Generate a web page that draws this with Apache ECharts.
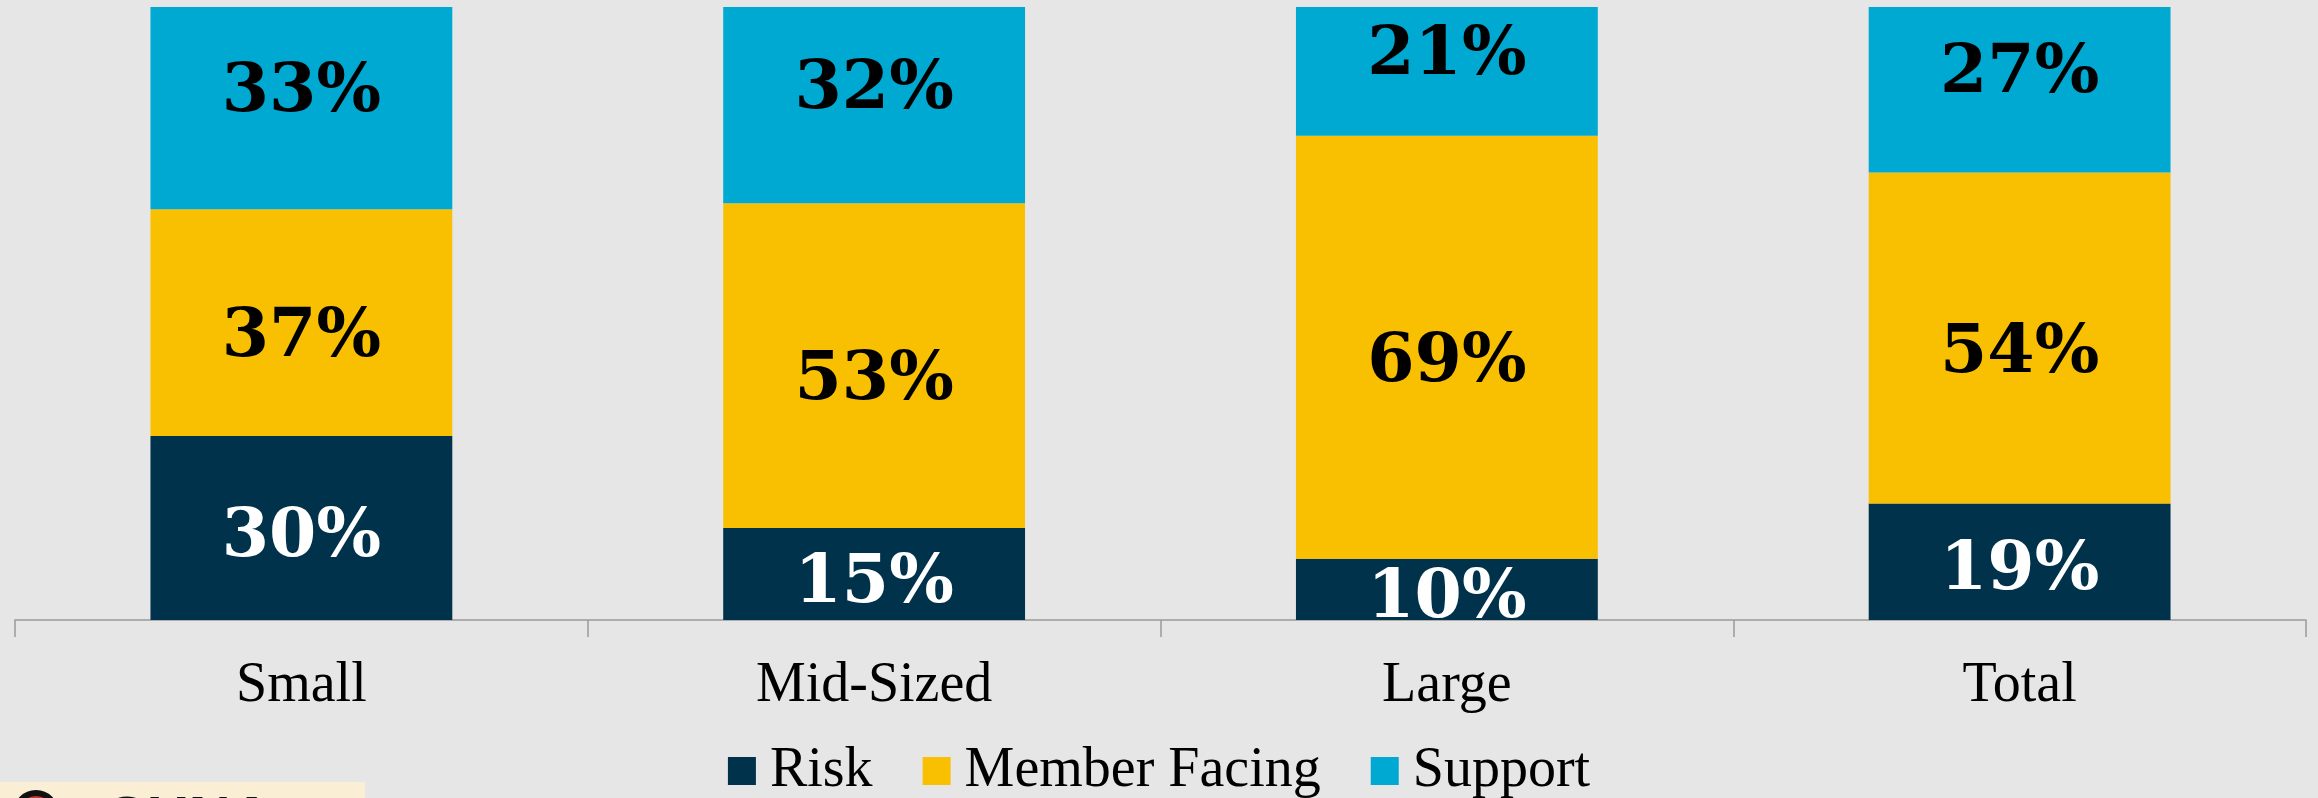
<!DOCTYPE html>
<html>
<head>
<meta charset="utf-8">
<script src="https://cdn.jsdelivr.net/npm/echarts@6/dist/echarts.min.js"></script>
<style>
html,body{margin:0;padding:0;background:#e6e6e6;}
#echart1{width:2318px;height:798px;}
</style>
</head>
<body>
<div id="echart1"></div>
<script>
var categories = ['Small', 'Mid-Sized', 'Large', 'Total'];
var riskData = [30, 15, 10, 19];
var memberData = [37, 53, 69, 54];
var supportData = [33, 32, 21, 27];

echarts_1();

function echarts_1() {
    var myChart = echarts.init(document.getElementById('echart1'));

    var labelFont = 'DejaVu Serif';
    var textFont = 'Liberation Serif';

    function seg(name, data, color, labelColor, dy) {
        return {
            name: name,
            type: 'bar',
            stack: 'total',
            barWidth: '52.7%',
            data: data,
            itemStyle: { color: color },
            label: {
                show: true,
                position: 'inside',
                offset: [0, dy],
                formatter: '{c}%',
                color: labelColor,
                fontFamily: labelFont,
                fontWeight: 'bold',
                fontSize: 68
            }
        };
    }

    var option = {
        backgroundColor: '#e6e6e6',
        animation: false,
        grid: {
            left: 15,
            right: 12,
            top: 7,
            bottom: 178
        },
        legend: {
            bottom: -6,
            left: 'center',
            icon: 'rect',
            itemWidth: 28,
            itemHeight: 28,
            itemGap: 50,
            data: ['Risk', 'Member Facing', 'Support'],
            textStyle: {
                color: '#000',
                fontFamily: textFont,
                fontSize: 56,
                padding: [0, 0, 0, 9]
            }
        },
        xAxis: {
            type: 'category',
            data: categories,
            axisLine: { lineStyle: { color: '#9a9a9a', width: 1.5 } },
            axisTick: { show: true, length: 17, lineStyle: { color: '#9a9a9a', width: 1.5 } },
            axisLabel: {
                color: '#000',
                fontFamily: textFont,
                fontSize: 56,
                margin: 38
            }
        },
        yAxis: {
            type: 'value',
            min: 0,
            max: 100,
            show: false,
            splitLine: { show: false }
        },
        graphic: [
            {
                type: 'rect',
                left: 0,
                top: 782,
                shape: { width: 365, height: 30 },
                style: { fill: '#faeed5' }
            },
            {
                type: 'circle',
                left: 13,
                top: 790,
                shape: { r: 20 },
                style: { fill: '#c0392b', stroke: '#111', lineWidth: 6 }
            },
            {
                type: 'text',
                left: 105,
                top: 792,
                style: {
                    text: 'CUNA',
                    fill: '#111',
                    font: 'bold 58px "Liberation Sans"'
                }
            }
        ],
        series: [
            seg('Risk', riskData, '#00324b', '#ffffff', 10),
            seg('Member Facing', memberData, '#f8c000', '#000000', 16),
            seg('Support', supportData, '#00a9d1', '#000000', -15)
        ]
    };

    myChart.setOption(option);
    window.addEventListener("resize", function () {
        myChart.resize();
    });
}
</script>
</body>
</html>
